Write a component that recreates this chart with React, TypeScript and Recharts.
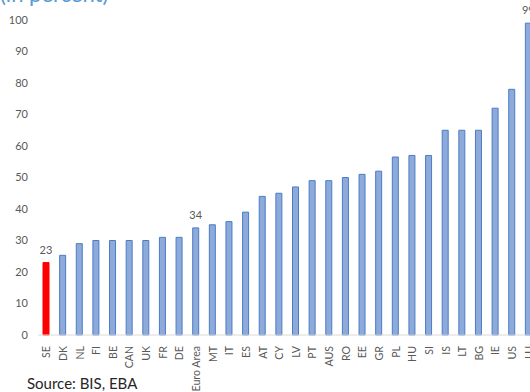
import { BarChart, Bar, XAxis, YAxis, Cell, LabelList } from 'recharts';

// Countries, sorted ascending by share (in percent)
const countries = [
  'SE', 'DK', 'NL', 'FI', 'BE', 'CAN', 'UK', 'FR', 'DE', 'Euro Area',
  'MT', 'IT', 'ES', 'AT', 'CY', 'LV', 'PT', 'AUS', 'RO', 'EE',
  'GR', 'PL', 'HU', 'SI', 'IS', 'LT', 'BG', 'IE', 'US', 'LU',
];
const shares = [
  23, 25.3, 29, 30, 30, 30, 30, 31, 31, 34,
  35, 36, 39, 44, 45, 47, 49, 49, 50, 51,
  52, 56.5, 57, 57, 65, 65, 65, 72, 78, 99,
];
// Only these bars carry a value label
const labelled = ['SE', 'Euro Area', 'LU'];
const highlight = 'SE';
const yTicks = [0, 10, 20, 30, 40, 50, 60, 70, 80, 90, 100];

const data = countries.map((name, i) => ({ name, value: shares[i] }));

const FONT = 'Lato, "Open Sans", sans-serif';
const GREY = '#595959';

const CountryTick = (props: any) => {
  const { x, y, payload } = props;
  return (
    <text
      x={0}
      y={0}
      transform={`translate(${x + 4},${y + 3}) rotate(-90)`}
      textAnchor="end"
      fill={GREY}
      fontSize={10.6}
      fontFamily={FONT}
    >
      {payload.value}
    </text>
  );
};

const ValueLabel = (props: any) => {
  const { x, y, width, value, index } = props;
  if (!labelled.includes(countries[index])) return null;
  return (
    <text x={x + width / 2} y={y - 9} textAnchor="middle" fill={GREY} fontSize={11} fontFamily={FONT}>
      {Math.round(value)}
    </text>
  );
};

export default function App() {
  return (
    <div style={{ position: 'absolute', left: 0, top: 0, width: 530, height: 392, overflow: 'hidden', background: '#fff' }}>
      <div
        style={{
          position: 'absolute',
          left: 0,
          top: -20,
          fontFamily: FONT,
          fontSize: 22,
          color: '#5b9bd5',
          whiteSpace: 'nowrap',
        }}
      >
        (in percent)
      </div>
      <div style={{ position: 'absolute', left: 0, top: 0 }}>
        <BarChart width={537} height={392} data={data} margin={{ top: 20, right: 0, left: 0, bottom: 0 }} barSize={6}>
          <XAxis
            dataKey="name"
            interval={0}
            height={57}
            tickLine={false}
            axisLine={{ stroke: '#d9d9d9' }}
            tick={<CountryTick />}
          />
          <YAxis
            domain={[0, 100]}
            ticks={yTicks}
            width={38}
            axisLine={false}
            tickLine={false}
            tickMargin={4}
            tick={{ fill: GREY, fontSize: 11, fontFamily: FONT }}
          />
          <Bar dataKey="value" isAnimationActive={false} stroke="#4a7cc6" strokeWidth={1}>
            {data.map((d) => (
              <Cell
                key={d.name}
                fill={d.name === highlight ? '#ff0000' : '#8eaadb'}
                stroke={d.name === highlight ? '#ff0000' : '#4a7cc6'}
              />
            ))}
            <LabelList dataKey="value" content={<ValueLabel />} />
          </Bar>
        </BarChart>
      </div>
      <div
        style={{
          position: 'absolute',
          left: 27,
          top: 374,
          fontFamily: FONT,
          fontSize: 15,
          color: '#262626',
          whiteSpace: 'nowrap',
        }}
      >
        Source: BIS, EBA
      </div>
    </div>
  );
}
